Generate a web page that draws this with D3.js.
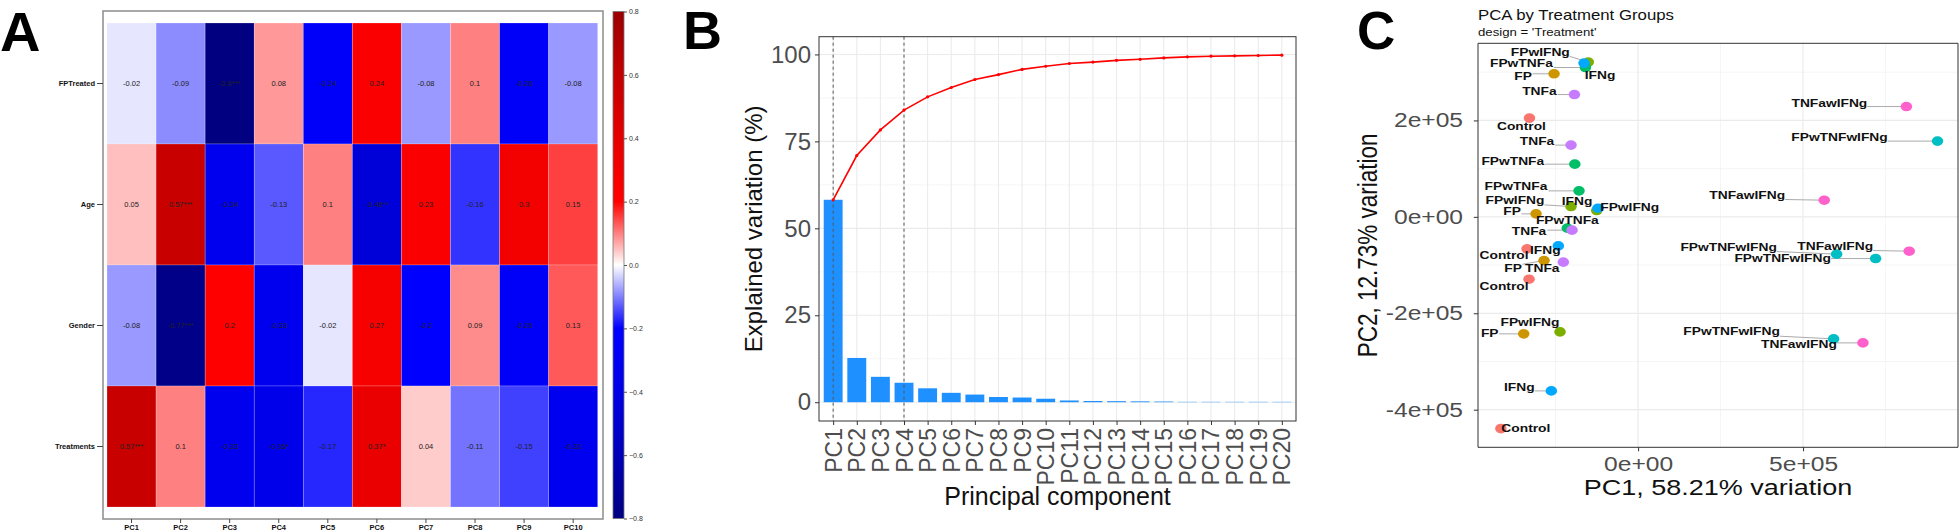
<!DOCTYPE html>
<html>
<head>
<meta charset="utf-8">
<script src="https://cdn.jsdelivr.net/npm/d3@7"></script>
<style>
  body { margin: 0; background: #fff; }
  svg { display: block; font-family: "Liberation Sans", Arial, Helvetica, sans-serif; }
</style>
</head>
<body>
<div id="chart"></div>
<script>
// ---------- panel A : correlation of covariates with PCs ----------
const heatRows = ["FPTreated", "Age", "Gender", "Treatments"];
const heatCols = ["PC1", "PC2", "PC3", "PC4", "PC5", "PC6", "PC7", "PC8", "PC9", "PC10"];
const corFPTreated  = [-0.02, -0.09, -0.8, 0.08, -0.24, 0.24, -0.08, 0.1, -0.26, -0.08];
const corAge        = [0.05, 0.57, -0.34, -0.13, 0.1, -0.46, 0.23, -0.16, 0.3, 0.15];
const corGender     = [-0.08, -0.77, 0.2, -0.33, -0.02, 0.27, -0.2, 0.09, -0.25, 0.13];
const corTreatments = [0.57, 0.1, -0.33, -0.36, -0.17, 0.37, 0.04, -0.11, -0.15, -0.32];
const sigFPTreated  = ["", "", "***", "", "", "", "", "", "", ""];
const sigAge        = ["", "***", "", "", "", "**", "", "", "", ""];
const sigGender     = ["", "***", "", "", "", "", "", "", "", ""];
const sigTreatments = ["***", "", "", "*", "", "*", "", "", "", ""];
const colorbarTicks = [0.8, 0.6, 0.4, 0.2, 0.0, -0.2, -0.4, -0.6, -0.8];

// ---------- panel B : scree plot ----------
const pcNames = ["PC1","PC2","PC3","PC4","PC5","PC6","PC7","PC8","PC9","PC10",
                 "PC11","PC12","PC13","PC14","PC15","PC16","PC17","PC18","PC19","PC20"];
const varExplained = [58.21, 12.73, 7.3, 5.6, 4.0, 2.7, 2.2, 1.5, 1.35, 1.0,
                      0.5, 0.35, 0.3, 0.25, 0.2, 0.1, 0.1, 0.1, 0.1, 0.1];
const cumExplained = [58.21, 70.94, 78.3, 84.0, 87.8, 90.5, 92.8, 94.2, 95.7, 96.6,
                      97.4, 97.8, 98.3, 98.6, 99.0, 99.3, 99.5, 99.6, 99.7, 99.8];
const screeYTicks = [0, 25, 50, 75, 100];
const screeMarked = ["PC1", "PC4"];

// ---------- panel C : PCA biplot ----------
const groupNames = ["Control", "FP", "FPwIFNg", "FPwTNFa", "FPwTNFwIFNg", "IFNg", "TNFa", "TNFawIFNg"];
const pcaGroup = [
  "Control", "Control", "Control", "Control",
  "FP", "FP", "FP", "FP",
  "FPwIFNg", "FPwIFNg", "FPwIFNg", "FPwIFNg",
  "FPwTNFa", "FPwTNFa", "FPwTNFa", "FPwTNFa",
  "FPwTNFwIFNg", "FPwTNFwIFNg", "FPwTNFwIFNg", "FPwTNFwIFNg",
  "IFNg", "IFNg", "IFNg", "IFNg",
  "TNFa", "TNFa", "TNFa", "TNFa",
  "TNFawIFNg", "TNFawIFNg", "TNFawIFNg", "TNFawIFNg"
];
const pcaPC1 = [
  -329000, -336400, -330300, -415700,
  -254500, -309100, -284800, -346400,
  -150600, -203000, -125100, -236400,
  -159400, -191500, -178800, -214200,
  907900, 602100, 720300, 593000,
  -163600, -121200, -241500, -262700,
  -192700, -203000, -200000, -226400,
  813600, 564500, 822100, 681800
];
const pcaPC2 = [
  204800, -66400, -129300, -439200,
  296700, 6200, -90700, -242700,
  321000, 21400, 13100, -238600,
  309800, 109300, 53900, -23400,
  157100, -77400, -86500, -253100,
  318900, 18000, -60200, -361000,
  253700, 148800, -27600, -94000,
  228800, 34600, -71200, -261400
];
const pcaXTicks = [0, 500000];
const pcaXTickLabels = ["0e+00", "5e+05"];
const pcaYTicks = [-400000, -200000, 0, 200000];
const pcaYTickLabels = ["-4e+05", "-2e+05", "0e+00", "2e+05"];

// label placement (repel result, px offsets from the point)
const labelDx = [-8, -23, -25, 25,  -31, -24, -31, -34,  -48, -56, 33, -30,  -64, -62, -63, 0,
                 -98, -108, -93, -102,  16, -21, -13, -32,  -35, -34, -43, -21,  -77, -77, -74, -64];
const labelDy = [8, 7, 7, 0,  3, -2, 8, 0,  -10, -6, -3, -10,  -4, -3, -4, -8,
                 -4, -7, 0, -7,  12, -7, 5, -4,  -3, -4, 1, 6,  -3, -5, -5, 2];

const groupColors = ["#F8766D", "#CD9600", "#7CAE00", "#00BE67", "#00BFC4", "#00A9FF", "#C77CFF", "#FF61CC"];

// ================================================================
const W = 1960, H = 532;
const svg = d3.select("#chart").append("svg").attr("width", W).attr("height", H);

// panel letters
[["A", 0, 51, 56], ["B", 683, 49, 54], ["C", 1357, 48.5, 53]].forEach(([t, x, y, s]) => {
  svg.append("text").attr("x", x).attr("y", y).attr("font-size", s)
    .attr("font-weight", "bold").attr("fill", "#000").text(t);
});

// ---------------- panel A ----------------
const corRows = [corFPTreated, corAge, corGender, corTreatments];
const sigRows = [sigFPTreated, sigAge, sigGender, sigTreatments];
const cells = [];
heatRows.forEach((r, i) => heatCols.forEach((c, j) => {
  cells.push({ row: r, col: c, v: corRows[i][j], sig: sigRows[i][j] });
}));

const xA = d3.scaleBand().domain(heatCols).range([107, 597.7]);
const yA = d3.scaleBand().domain(heatRows).range([23, 507]);
const colA = d3.scaleLinear()
  .domain([-0.8, -0.6, -0.4, -0.2, 0, 0.2, 0.4, 0.6, 0.8])
  .range(["#000080", "#0000B8", "#0000E6", "#0000FF", "#FFFFFF", "#FF0000", "#E60000", "#C40000", "#990000"]);

const gA = svg.append("g");
gA.append("rect").attr("x", 103).attr("y", 11).attr("width", 500).attr("height", 508)
  .attr("fill", "#fff").attr("stroke", "#8c8c8c").attr("stroke-width", 1.5);

gA.selectAll("rect.cell").data(cells).enter().append("rect")
  .attr("class", "cell")
  .attr("x", d => xA(d.col)).attr("y", d => yA(d.row))
  .attr("width", xA.bandwidth()).attr("height", yA.bandwidth())
  .attr("fill", d => colA(d.v))
  .attr("stroke", "rgba(255,255,255,0.35)").attr("stroke-width", 0.6);

gA.selectAll("text.val").data(cells).enter().append("text")
  .attr("class", "val")
  .attr("x", d => xA(d.col) + xA.bandwidth() / 2)
  .attr("y", d => yA(d.row) + yA.bandwidth() / 2)
  .attr("text-anchor", "middle").attr("dominant-baseline", "central")
  .attr("font-size", 7.5).attr("fill", "#222")
  .text(d => String(d.v) + d.sig);

const axAy = gA.append("g").attr("transform", "translate(103,0)")
  .call(d3.axisLeft(yA).tickSize(6).tickPadding(2));
axAy.select(".domain").remove();
axAy.selectAll("line").attr("stroke", "#444");
axAy.selectAll("text").attr("font-size", 7.5).attr("font-weight", "bold").attr("fill", "#111")
  .attr("font-family", "'Liberation Sans', Arial, sans-serif");

const axAx = gA.append("g").attr("transform", "translate(0,519)")
  .call(d3.axisBottom(xA).tickSize(4).tickPadding(2));
axAx.select(".domain").remove();
axAx.selectAll("line").attr("stroke", "#444");
axAx.selectAll("text").attr("font-size", 7.5).attr("font-weight", "bold").attr("fill", "#111")
  .attr("font-family", "'Liberation Sans', Arial, sans-serif");

// colour bar
const yCB = d3.scaleLinear().domain([-0.8, 0.8]).range([518.5, 11.5]);
const grad = svg.append("defs").append("linearGradient").attr("id", "cbGrad")
  .attr("x1", 0).attr("y1", 1).attr("x2", 0).attr("y2", 0);
d3.range(0, 17).forEach(k => {
  const v = -0.8 + k * 0.1;
  grad.append("stop").attr("offset", (k / 16)).attr("stop-color", colA(v));
});
gA.append("rect").attr("x", 613).attr("y", 11.5).attr("width", 11).attr("height", 507)
  .attr("fill", "url(#cbGrad)").attr("stroke", "#777").attr("stroke-width", 0.8);
const axCB = gA.append("g").attr("transform", "translate(624,0)")
  .call(d3.axisRight(yCB).tickValues(colorbarTicks).tickFormat(d3.format(".1f")).tickSize(3).tickPadding(2));
axCB.select(".domain").remove();
axCB.selectAll("line").attr("stroke", "#555");
axCB.selectAll("text").attr("font-size", 7).attr("fill", "#333")
  .attr("font-family", "'Liberation Sans', Arial, sans-serif");

// ---------------- panel B ----------------
const bL = 819, bR = 1296, bT = 36.7, bB = 421;
const gB = svg.append("g");
const xB = d3.scalePoint().domain(pcNames).range([bL, bR]).padding(0.6);
const yB = d3.scaleLinear().domain([-5.4, 105.1]).range([bB, bT]);
const stepB = xB.step();

// grid
const minorB = [12.5, 37.5, 62.5, 87.5];
gB.selectAll("line.minor").data(minorB).enter().append("line")
  .attr("x1", bL).attr("x2", bR).attr("y1", d => yB(d)).attr("y2", d => yB(d))
  .attr("stroke", "#F2F2F2").attr("stroke-width", 0.7);
gB.selectAll("line.hmaj").data(screeYTicks).enter().append("line")
  .attr("x1", bL).attr("x2", bR).attr("y1", d => yB(d)).attr("y2", d => yB(d))
  .attr("stroke", "#EBEBEB").attr("stroke-width", 1.1);
gB.selectAll("line.vmaj").data(pcNames).enter().append("line")
  .attr("x1", d => xB(d)).attr("x2", d => xB(d)).attr("y1", bT).attr("y2", bB)
  .attr("stroke", "#EBEBEB").attr("stroke-width", 1.1);

// bars
gB.selectAll("rect.bar").data(pcNames).enter().append("rect")
  .attr("x", d => xB(d) - stepB * 0.4)
  .attr("width", stepB * 0.8)
  .attr("y", (d, i) => yB(varExplained[i]))
  .attr("height", (d, i) => yB(0) - yB(varExplained[i]))
  .attr("fill", "#1E90FF");

// dashed markers
gB.selectAll("line.mark").data(screeMarked).enter().append("line")
  .attr("x1", d => xB(d)).attr("x2", d => xB(d)).attr("y1", bT).attr("y2", bB)
  .attr("stroke", "#555").attr("stroke-width", 1).attr("stroke-dasharray", "3,3");

// cumulative line
const cumLine = d3.line().x((d, i) => xB(pcNames[i])).y(d => yB(d));
gB.append("path").datum(cumExplained).attr("d", cumLine)
  .attr("fill", "none").attr("stroke", "#FF0000").attr("stroke-width", 1.6);
gB.selectAll("circle.cum").data(cumExplained).enter().append("circle")
  .attr("cx", (d, i) => xB(pcNames[i])).attr("cy", d => yB(d)).attr("r", 1.6).attr("fill", "#FF0000");

gB.append("rect").attr("x", bL).attr("y", bT).attr("width", bR - bL).attr("height", bB - bT)
  .attr("fill", "none").attr("stroke", "#333").attr("stroke-width", 1);

const axBy = gB.append("g").attr("transform", `translate(${bL},0)`)
  .call(d3.axisLeft(yB).tickValues(screeYTicks).tickSize(4).tickPadding(4));
axBy.select(".domain").remove();
axBy.selectAll("line").attr("stroke", "#333");
axBy.selectAll("text").attr("font-size", 24).attr("fill", "#4D4D4D")
  .attr("font-family", "'Liberation Sans', Arial, sans-serif");

const axBx = gB.append("g").attr("transform", `translate(0,${bB})`)
  .call(d3.axisBottom(xB).tickSize(4).tickPadding(3));
axBx.select(".domain").remove();
axBx.selectAll("line").attr("stroke", "#333");
axBx.selectAll("text")
  .attr("font-size", 23).attr("fill", "#4D4D4D")
  .attr("font-family", "'Liberation Sans', Arial, sans-serif")
  .attr("text-anchor", "end").attr("dy", null).attr("y", null)
  .attr("dominant-baseline", "central")
  .attr("transform", "translate(0,7) rotate(-90)");

gB.append("text").attr("x", (bL + bR) / 2).attr("y", 505)
  .attr("text-anchor", "middle").attr("font-size", 25).attr("fill", "#111")
  .text("Principal component");
gB.append("text").attr("transform", `translate(753,${(bT + bB) / 2}) rotate(-90)`)
  .attr("text-anchor", "middle").attr("dominant-baseline", "central")
  .attr("font-size", 24).attr("fill", "#111")
  .text("Explained variation (%)");

// ---------------- panel C ----------------
const sx = 1.2;                 // the original panel is stretched horizontally
const cL = 1478, cR = 1958, cT = 43.3, cB = 447.3;
const cW = (cR - cL) / sx;
const gC = svg.append("g").attr("transform", `translate(${cL},0) scale(${sx},1)`);
const xC = d3.scaleLinear().domain([-485000, 970000]).range([0, cW]);
const yC = d3.scaleLinear().domain([-478000, 360000]).range([cB, cT]);
const colC = d3.scaleOrdinal().domain(groupNames).range(groupColors);

gC.append("text").attr("x", 0).attr("y", 20).attr("font-size", 14).attr("fill", "#111")
  .text("PCA by Treatment Groups");
gC.append("text").attr("x", 0).attr("y", 35.7).attr("font-size", 11).attr("fill", "#111")
  .text("design = 'Treatment'");

const minorCx = [-250000, 250000, 750000];
const minorCy = [-300000, -100000, 100000, 300000];
gC.selectAll("line.cmx").data(minorCx).enter().append("line")
  .attr("x1", d => xC(d)).attr("x2", d => xC(d)).attr("y1", cT).attr("y2", cB)
  .attr("stroke", "#F2F2F2").attr("stroke-width", 0.8).attr("vector-effect", "non-scaling-stroke");
gC.selectAll("line.cmy").data(minorCy).enter().append("line")
  .attr("x1", 0).attr("x2", cW).attr("y1", d => yC(d)).attr("y2", d => yC(d))
  .attr("stroke", "#F2F2F2").attr("stroke-width", 0.8).attr("vector-effect", "non-scaling-stroke");
gC.selectAll("line.cMx").data(pcaXTicks).enter().append("line")
  .attr("x1", d => xC(d)).attr("x2", d => xC(d)).attr("y1", cT).attr("y2", cB)
  .attr("stroke", "#EBEBEB").attr("stroke-width", 1.2).attr("vector-effect", "non-scaling-stroke");
gC.selectAll("line.cMy").data(pcaYTicks).enter().append("line")
  .attr("x1", 0).attr("x2", cW).attr("y1", d => yC(d)).attr("y2", d => yC(d))
  .attr("stroke", "#EBEBEB").attr("stroke-width", 1.2).attr("vector-effect", "non-scaling-stroke");

const samples = pcaGroup.map((g, i) => ({
  g, x: pcaPC1[i], y: pcaPC2[i], dx: labelDx[i] / sx, dy: labelDy[i]
}));

const segLayer = gC.append("g");
gC.selectAll("circle.pt").data(samples).enter().append("circle")
  .attr("cx", d => xC(d.x)).attr("cy", d => yC(d.y)).attr("r", 4.8)
  .attr("fill", d => colC(d.g));
const labels = gC.selectAll("text.lab").data(samples).enter().append("text")
  .attr("x", d => xC(d.x) + d.dx).attr("y", d => yC(d.y) + d.dy)
  .attr("text-anchor", "middle").attr("dominant-baseline", "central")
  .attr("font-size", 11.5).attr("font-weight", "bold").attr("fill", "#111")
  .text(d => d.g);

// repel segments from label box edge to the point
labels.each(function (d) {
  const b = this.getBBox();
  const px = xC(d.x), py = yC(d.y);
  const nx = Math.max(b.x, Math.min(px, b.x + b.width));
  const ny = Math.max(b.y + 2, Math.min(py, b.y + b.height - 2));
  const dist = Math.hypot((px - nx) * sx, py - ny);
  if (dist > 7) {
    segLayer.append("line").attr("x1", nx).attr("y1", ny).attr("x2", px).attr("y2", py)
      .attr("stroke", "#AAAAAA").attr("stroke-width", 1).attr("vector-effect", "non-scaling-stroke");
  }
});

gC.append("rect").attr("x", 0).attr("y", cT).attr("width", cW).attr("height", cB - cT)
  .attr("fill", "none").attr("stroke", "#333").attr("stroke-width", 1)
  .attr("vector-effect", "non-scaling-stroke");

const axCy = gC.append("g")
  .call(d3.axisLeft(yC).tickValues(pcaYTicks).tickFormat((d, i) => pcaYTickLabels[i]).tickSize(3.5).tickPadding(9));
axCy.select(".domain").remove();
axCy.selectAll("line").attr("stroke", "#333").attr("vector-effect", "non-scaling-stroke");
axCy.selectAll("text").attr("font-size", 20.5).attr("fill", "#4D4D4D")
  .attr("font-family", "'Liberation Sans', Arial, sans-serif");

const axCx = gC.append("g").attr("transform", `translate(0,${cB})`)
  .call(d3.axisBottom(xC).tickValues(pcaXTicks).tickFormat((d, i) => pcaXTickLabels[i]).tickSize(4).tickPadding(5.4));
axCx.select(".domain").remove();
axCx.selectAll("line").attr("stroke", "#333").attr("vector-effect", "non-scaling-stroke");
axCx.selectAll("text").attr("font-size", 20.5).attr("fill", "#4D4D4D")
  .attr("font-family", "'Liberation Sans', Arial, sans-serif");

gC.append("text").attr("x", cW / 2).attr("y", 495)
  .attr("text-anchor", "middle").attr("font-size", 22.5).attr("fill", "#111")
  .text("PC1, 58.21% variation");
gC.append("text").attr("transform", `translate(${(1368 - cL) / sx},${(cT + cB) / 2}) rotate(-90)`)
  .attr("text-anchor", "middle").attr("dominant-baseline", "central")
  .attr("font-size", 22.5).attr("fill", "#111")
  .text("PC2, 12.73% variation");
</script>
</body>
</html>
